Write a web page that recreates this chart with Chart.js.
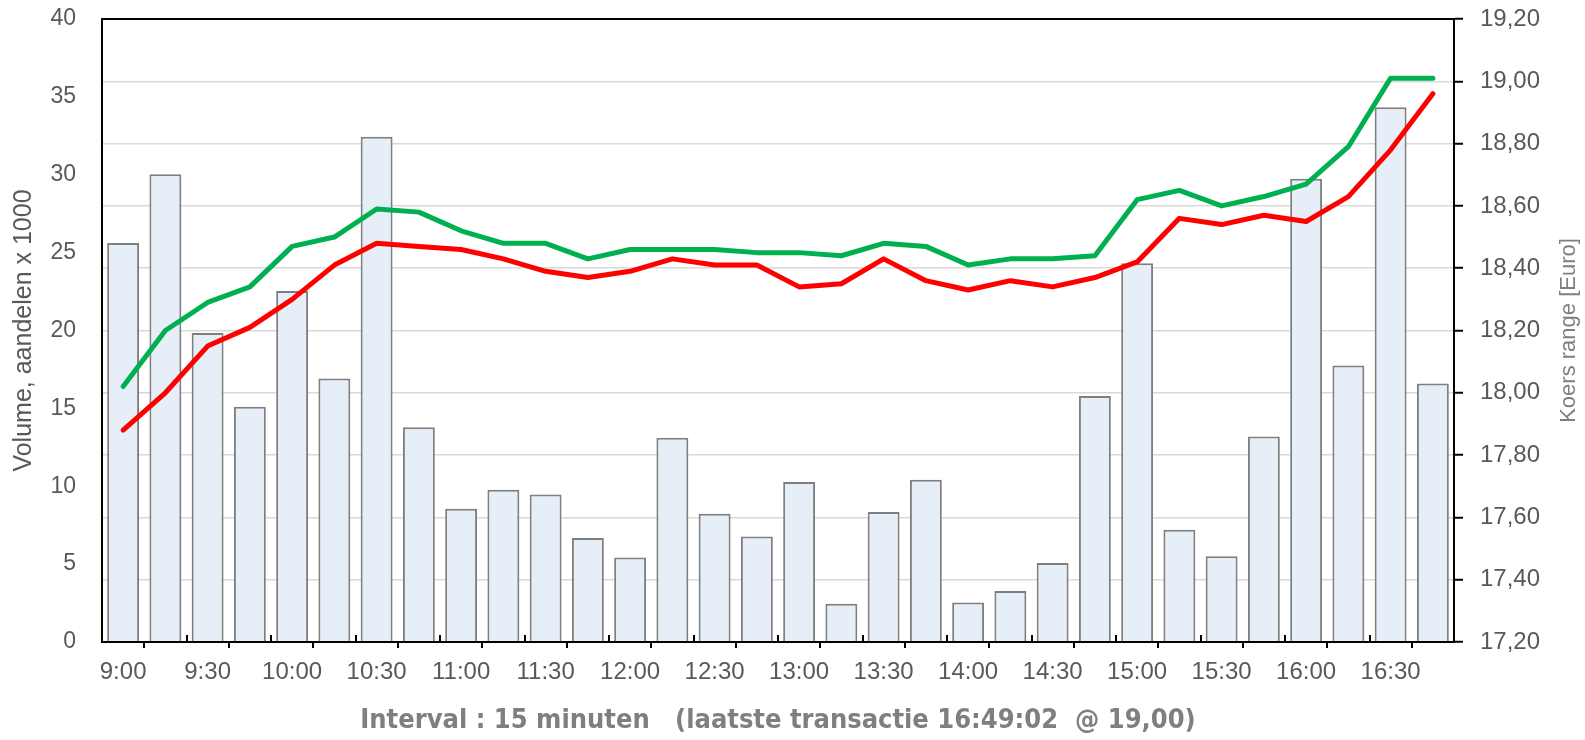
<!DOCTYPE html>
<html>
<head>
<meta charset="utf-8">
<script src="https://cdn.jsdelivr.net/npm/chart.js@4/dist/chart.umd.min.js"></script>
<style>
html,body{margin:0;padding:0;background:#ffffff;}
#wrap{width:1585px;height:740px;position:relative;}
</style>
</head>
<body>
<div id="wrap"><canvas id="c"></canvas></div>
<script>
// ---- data ----
const categories = ['9:00','9:15','9:30','9:45','10:00','10:15','10:30','10:45','11:00','11:15','11:30','11:45',
  '12:00','12:15','12:30','12:45','13:00','13:15','13:30','13:45','14:00','14:15','14:30','14:45',
  '15:00','15:15','15:30','15:45','16:00','16:15','16:30','16:45'];
const volume = [25.61, 30.04, 19.84, 15.11, 22.54, 16.92, 32.44, 13.79, 8.56, 9.77, 9.47, 6.67,
  5.43, 13.12, 8.23, 6.77, 10.28, 2.46, 8.34, 10.42, 2.54, 3.27, 5.07, 15.79,
  24.32, 7.21, 5.51, 13.20, 29.74, 17.76, 34.33, 16.60];
const koersHoog = [18.02, 18.20, 18.29, 18.34, 18.47, 18.50, 18.59, 18.58, 18.52, 18.48, 18.48, 18.43,
  18.46, 18.46, 18.46, 18.45, 18.45, 18.44, 18.48, 18.47, 18.41, 18.43, 18.43, 18.44,
  18.62, 18.65, 18.60, 18.63, 18.67, 18.79, 19.01, 19.01];
const koersLaag = [17.88, 18.00, 18.15, 18.21, 18.30, 18.41, 18.48, 18.47, 18.46, 18.43, 18.39, 18.37,
  18.39, 18.43, 18.41, 18.41, 18.34, 18.35, 18.43, 18.36, 18.33, 18.36, 18.34, 18.37,
  18.42, 18.56, 18.54, 18.57, 18.55, 18.63, 18.78, 18.96];
const volumeAxis = [0, 40, 5];        // min, max, step
const koersAxis = [17.2, 19.2, 0.2];  // min, max, step
const xTitle = 'Interval : 15 minuten   (laatste transactie 16:49:02  @ 19,00)';
const yTitle = 'Volume, aandelen x 1000';
const y1Title = 'Koers range [Euro]';

const FONT = '"Liberation Sans", Arial, sans-serif';
const NARROW = '"Liberation Sans Narrow", "DejaVu Sans Condensed", "Liberation Sans", sans-serif';

const framePlugin = {
  id: 'framePlugin',
  afterDraw(chart) {
    const {ctx, chartArea: a, scales} = chart;
    const x = scales.x, y1 = scales.y1;
    ctx.save();
    ctx.strokeStyle = '#000';
    ctx.lineWidth = 2;
    ctx.beginPath();
    ctx.moveTo(a.left - 1, a.top);
    ctx.lineTo(a.right + 1, a.top);
    ctx.stroke();
    // inward minor ticks at the other category boundaries
    ctx.beginPath();
    for (let i = 2; i < categories.length; i += 2) {
      const px = Math.round((x.getPixelForValue(i - 1) + x.getPixelForValue(i)) / 2);
      ctx.moveTo(px, a.bottom);
      ctx.lineTo(px, a.bottom - 7);
    }
    ctx.stroke();
    // right axis title, reading bottom to top
    ctx.fillStyle = '#7f7f7f';
    ctx.font = '22px ' + FONT;
    ctx.textAlign = 'center';
    ctx.textBaseline = 'middle';
    ctx.translate(y1.right - 16, (a.top + a.bottom) / 2);
    ctx.rotate(-Math.PI / 2);
    ctx.fillText(y1Title, 0, 0);
    ctx.restore();
  }
};

function noVertPad(s) { s.paddingTop = 0; s.paddingBottom = 0; }

new Chart(document.getElementById('c'), {
  data: {
    labels: categories,
    datasets: [
      {
        type: 'line', label: 'Hoog', data: koersHoog, yAxisID: 'y1', order: 0,
        borderColor: '#00b050', borderWidth: 5, pointRadius: 0, tension: 0,
        borderCapStyle: 'round', borderJoinStyle: 'round', fill: false
      },
      {
        type: 'line', label: 'Laag', data: koersLaag, yAxisID: 'y1', order: 1,
        borderColor: '#ff0000', borderWidth: 5, pointRadius: 0, tension: 0,
        borderCapStyle: 'round', borderJoinStyle: 'round', fill: false
      },
      {
        type: 'bar', label: 'Volume', data: volume, yAxisID: 'y', order: 2,
        backgroundColor: '#e6eef8', borderColor: '#7f7f7f', borderWidth: 2,
        categoryPercentage: 1.0, barPercentage: 0.755
      }
    ]
  },
  options: {
    responsive: true,
    maintainAspectRatio: false,
    animation: false,
    events: [],
    layout: { padding: { top: 19, left: 0, right: 0, bottom: 0 } },
    plugins: { legend: { display: false }, tooltip: { enabled: false } },
    scales: {
      x: {
        type: 'category',
        offset: true,
        afterFit(s) { s.height = 98; },
        grid: {
          display: true, offset: true, drawOnChartArea: false, drawTicks: true, tickLength: 6,
          lineWidth: 2,
          color: (ctx) => (ctx.index % 2 === 1 ? '#000000' : 'rgba(0,0,0,0)')
        },
        border: { display: true, color: '#000', width: 2, z: 1 },
        ticks: {
          autoSkip: false, maxRotation: 0, minRotation: 0, padding: 10,
          color: '#595959', font: { family: FONT, size: 24 },
          callback: function (v, i) { return i % 2 === 0 ? categories[i] : ''; }
        },
        title: {
          display: true, text: xTitle, color: '#7f7f7f',
          font: { family: NARROW, size: 27, weight: 'bold' },
          padding: { top: 0, bottom: 3 }
        }
      },
      y: {
        type: 'linear', position: 'left',
        min: volumeAxis[0], max: volumeAxis[1],
        afterFit(s) { s.width = 102; noVertPad(s); },
        grid: { display: false, drawTicks: false },
        border: { display: true, color: '#000', width: 2, z: 1 },
        ticks: { stepSize: volumeAxis[2], padding: 26, color: '#595959', font: { family: FONT, size: 23 } },
        title: {
          display: true, text: yTitle, color: '#595959',
          font: { family: FONT, size: 25 }, padding: { top: 9, bottom: 0 }
        }
      },
      y1: {
        type: 'linear', position: 'right',
        min: koersAxis[0], max: koersAxis[1],
        afterFit(s) { s.width = 131; noVertPad(s); },
        grid: {
          display: true, drawOnChartArea: true, color: '#d9d9d9', lineWidth: 1.5,
          drawTicks: true, tickLength: 9, tickColor: '#000', tickWidth: 2
        },
        border: { display: true, color: '#000', width: 2, z: 1 },
        ticks: {
          stepSize: koersAxis[2], padding: 17, color: '#595959', font: { family: FONT, size: 24 },
          callback: (v) => Number(v).toFixed(2).replace('.', ',')
        }
      }
    }
  },
  plugins: [framePlugin]
});
</script>
</body>
</html>
